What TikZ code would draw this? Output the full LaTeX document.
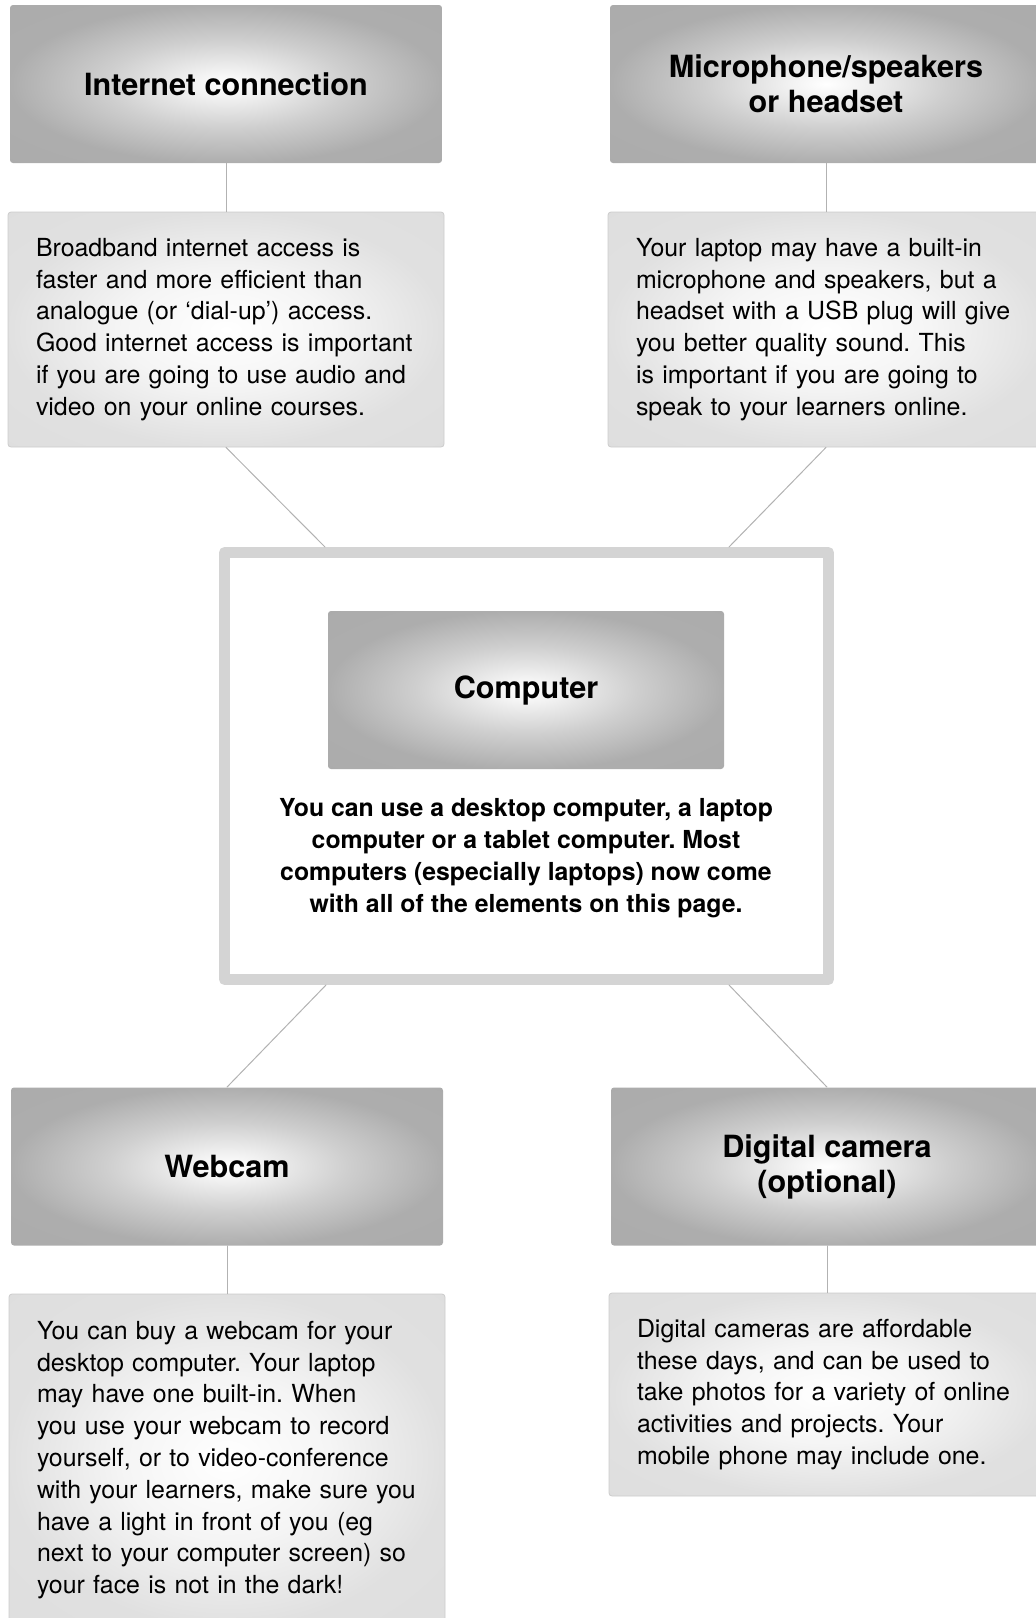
\documentclass[tikz,border=0pt]{standalone}
\usepackage{fontspec}
\setmainfont{TeX Gyre Heros}

\pgfdeclareradialshading{glow}{\pgfpoint{0bp}{0bp}}{color(0bp)=(white); color(4bp)=(black!5); color(14bp)=(black!19); color(25bp)=(black!32); color(50bp)=(black!34)}
\pgfdeclareradialshading{paper}{\pgfpoint{0bp}{0bp}}{color(0bp)=(white); color(12bp)=(black!4); color(25bp)=(black!12); color(50bp)=(black!14)}

\begin{document}
\frenchspacing
\begin{tikzpicture}[x=0.5pt, y=-0.5pt, line join=round, line cap=round,
	titlebox/.style={shading=glow, rounded corners=1.5pt,
		minimum width=216pt, minimum height=79pt, align=center,
		font=\fontsize{15.3}{17.5}\selectfont\bfseries},
	infobox/.style={draw=black!20, shading=paper, rounded corners=1.5pt,
		minimum width=218pt, minimum height=117.5pt, inner xsep=14pt, text width=190pt, align=left,
		font=\fontsize{12.45}{15.9}\selectfont},
	link/.style={draw=black!30, line width=0.5pt}]
	\useasboundingbox (0,0) rectangle (1035,1618);
	% top row
	\node[titlebox] (net) at (226,84) {Internet connection};
	\node[infobox] (nettxt) at (226,329.5) {Broadband internet access is\\faster and more efficient than\\analogue (or `dial-up') access.\\Good internet access is important\\if you are going to use audio and\\video on your online courses.};
	\node[titlebox] (mic) at (826,84) {Microphone/speakers\\or headset};
	\node[infobox] (mictxt) at (826,329.5) {Your laptop may have a built-in\\microphone and speakers, but a\\headset with a USB plug will give\\you better quality sound. This\\is important if you are going to\\speak to your learners online.};
	% centre
	\node[draw=black!17, line width=5.5pt, fill=white, minimum width=302pt, minimum height=213.5pt] (frame) at (526.5,766) {};
	\node[titlebox, minimum width=198pt] (pc) at (526,690) {Computer};
	\node[align=center, font=\fontsize{12.4}{16}\selectfont\bfseries] (pctxt) at (526,858) {You can use a desktop computer, a laptop\\computer or a tablet computer. Most\\computers (especially laptops) now come\\with all of the elements on this page.};
	% bottom row
	\node[titlebox] (cam) at (227,1166.5) {Webcam};
	\node[infobox, minimum height=166pt] (camtxt) at (227,1460) {You can buy a webcam for your\\desktop computer. Your laptop\\may have one built-in. When\\you use your webcam to record\\yourself, or to video-conference\\with your learners, make sure you\\have a light in front of you (eg\\next to your computer screen) so\\your face is not in the dark!};
	\node[titlebox] (dig) at (827,1166.5) {Digital camera\\(optional)};
	\node[infobox, minimum height=101.5pt] (digtxt) at (827,1394.5) {Digital cameras are affordable\\these days, and can be used to\\take photos for a variety of online\\activities and projects. Your\\mobile phone may include one.};
	% connectors
	\foreach \a/\b in {net/nettxt, mic/mictxt, cam/camtxt, dig/digtxt}
		\draw[link] (\a) -- (\b);
	\draw[link] (nettxt.south) -- ([xshift=53pt]frame.north west);
	\draw[link] (mictxt.south) -- ([xshift=-52.5pt]frame.north east);
	\draw[link] ([xshift=53.5pt]frame.south west) -- (cam.north);
	\draw[link] ([xshift=-52.5pt]frame.south east) -- (dig.north);
\end{tikzpicture}
\end{document}
